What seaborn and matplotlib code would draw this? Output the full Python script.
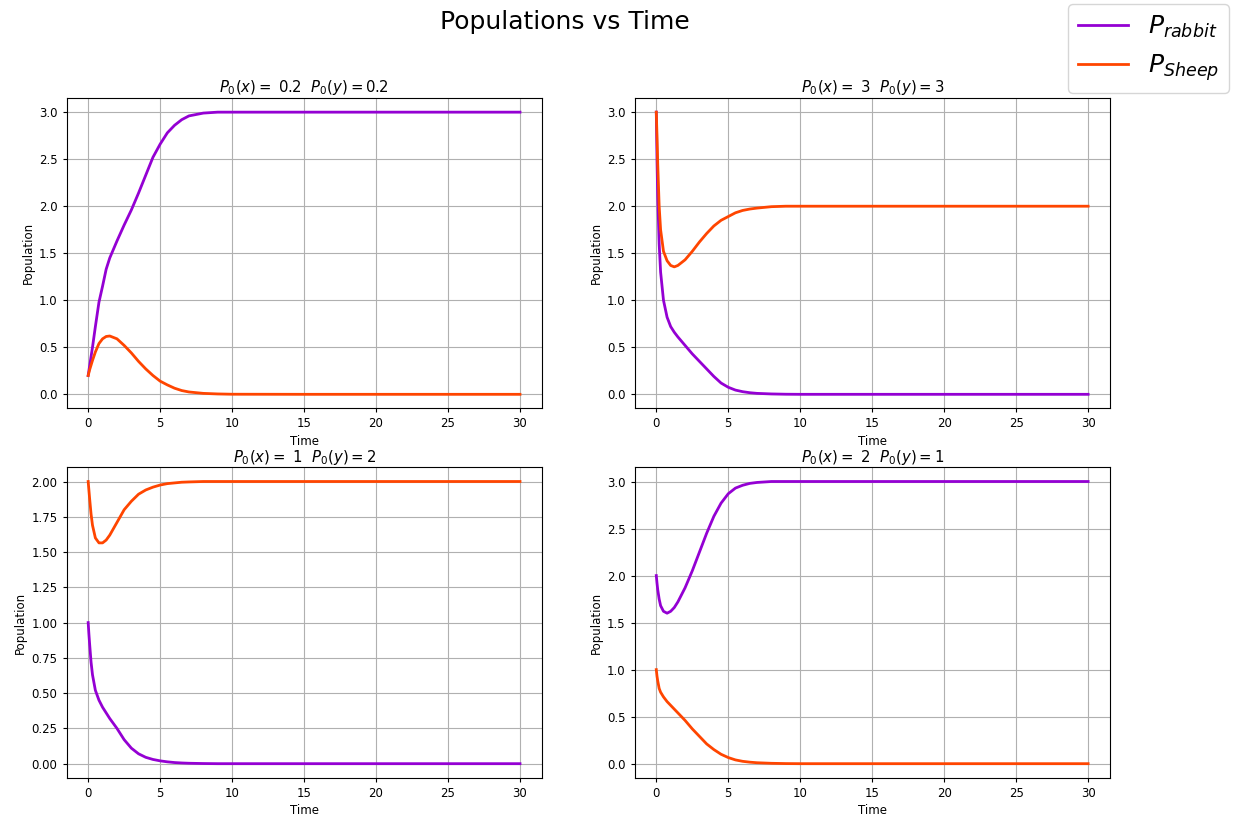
import matplotlib
matplotlib.use("Agg")
import matplotlib.pyplot as plt
import pandas as pd
import seaborn as sns

# time samples (shared by every curve)
t = [0, 0.05, 0.1, 0.2, 0.3, 0.5, 0.75, 1, 1.25, 1.5, 2, 2.5, 3, 3.5, 4, 4.5,
     5, 5.5, 6, 6.5, 7, 8, 9, 10, 15, 20, 25, 30]

# initial conditions shown in the subplot titles
x0 = ['0.2', '3', '1', '2']
y0 = ['0.2', '3', '2', '1']

# panel 1: P0(x)=0.2, P0(y)=0.2
rabbit_1 = [0.2, 0.25, 0.3, 0.4, 0.5, 0.72, 0.98, 1.15, 1.33, 1.45, 1.63, 1.8, 1.96, 2.14,
            2.33, 2.52, 2.66, 2.78, 2.86, 2.92, 2.96, 2.99, 3.0, 3.0, 3.0, 3.0, 3.0, 3.0]
sheep_1 = [0.2, 0.23, 0.26, 0.31, 0.36, 0.45, 0.54, 0.59, 0.615, 0.62, 0.59, 0.52, 0.44, 0.35,
           0.27, 0.2, 0.14, 0.1, 0.065, 0.04, 0.025, 0.01, 0.004, 0.001, 0, 0, 0, 0]

# panel 2: P0(x)=3, P0(y)=3
rabbit_2 = [3.0, 2.5, 2.1, 1.6, 1.3, 1.0, 0.82, 0.72, 0.66, 0.61, 0.52, 0.43, 0.35, 0.27,
            0.19, 0.12, 0.075, 0.045, 0.028, 0.017, 0.01, 0.004, 0.001, 0, 0, 0, 0, 0]
sheep_2 = [3.0, 2.75, 2.45, 2.0, 1.75, 1.52, 1.42, 1.37, 1.355, 1.37, 1.43, 1.52, 1.62, 1.71,
           1.79, 1.85, 1.89, 1.93, 1.955, 1.97, 1.98, 1.995, 2.0, 2.0, 2.0, 2.0, 2.0, 2.0]

# panel 3: P0(x)=1, P0(y)=2
rabbit_3 = [1.0, 0.92, 0.85, 0.72, 0.63, 0.52, 0.45, 0.4, 0.36, 0.32, 0.25, 0.17, 0.11, 0.07,
            0.045, 0.03, 0.02, 0.013, 0.008, 0.005, 0.003, 0.001, 0, 0, 0, 0, 0, 0]
sheep_3 = [2.0, 1.94, 1.88, 1.77, 1.69, 1.6, 1.565, 1.565, 1.585, 1.62, 1.71, 1.8, 1.86, 1.91,
           1.94, 1.96, 1.975, 1.985, 1.99, 1.995, 1.997, 2.0, 2.0, 2.0, 2.0, 2.0, 2.0, 2.0]

# panel 4: P0(x)=2, P0(y)=1
rabbit_4 = [2.0, 1.92, 1.85, 1.75, 1.68, 1.62, 1.6, 1.62, 1.66, 1.72, 1.87, 2.05, 2.25, 2.45,
            2.63, 2.77, 2.87, 2.93, 2.96, 2.98, 2.99, 3.0, 3.0, 3.0, 3.0, 3.0, 3.0, 3.0]
sheep_4 = [1.0, 0.93, 0.88, 0.8, 0.76, 0.71, 0.66, 0.62, 0.58, 0.54, 0.46, 0.37, 0.29, 0.21,
           0.15, 0.1, 0.065, 0.04, 0.025, 0.016, 0.01, 0.004, 0.001, 0, 0, 0, 0, 0]

rabbits = [rabbit_1, rabbit_2, rabbit_3, rabbit_4]
sheeps = [sheep_1, sheep_2, sheep_3, sheep_4]

plt.rcParams['xtick.labelsize'] = 8.5
plt.rcParams['ytick.labelsize'] = 8.5
plt.rcParams['axes.labelsize'] = 8.5
plt.rcParams['xtick.major.size'] = 3
plt.rcParams['ytick.major.size'] = 3
plt.rcParams['axes.labelpad'] = 3

fig, axes = plt.subplots(2, 2, figsize=(12.33, 8.17), dpi=100)
fig.subplots_adjust(left=0.054, right=0.9, top=0.88, bottom=0.048, hspace=0.19, wspace=0.196)

for i, ax in enumerate(axes.flat):
    df = pd.DataFrame({'Time': t, 'rabbit': rabbits[i], 'sheep': sheeps[i]})
    sns.lineplot(data=df, x='Time', y='rabbit', color='darkviolet', linewidth=2,
                 label=r'$P_{rabbit}$', legend=False, ax=ax)
    sns.lineplot(data=df, x='Time', y='sheep', color='orangered', linewidth=2,
                 label=r'$P_{Sheep}$', legend=False, ax=ax)
    ax.set_title('$P_0(x) = $ ' + x0[i] + '  $P_0(y) = ' + y0[i] + '$', fontsize=10.7, pad=4)
    ax.set_xlabel('Time')
    ax.set_ylabel('Population')
    ax.grid(True)

handles, labels = axes[0, 0].get_legend_handles_labels()
fig.legend(handles, labels, loc='upper right', fontsize=18, borderaxespad=0.15)
fig.suptitle('Populations vs Time', fontsize=18, x=0.458, y=0.988)

fig.savefig('out.png', dpi=100)
